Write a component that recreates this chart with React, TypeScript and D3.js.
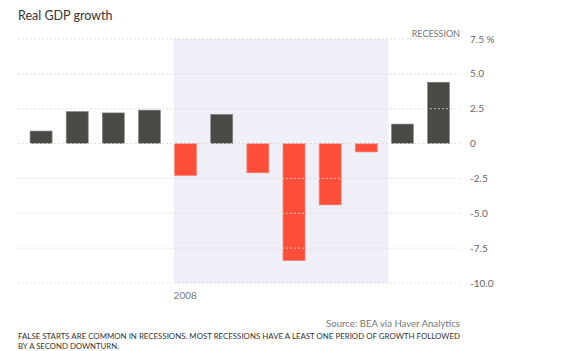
import React from 'react';
import { scaleBand, scaleLinear } from 'd3';

const quarters = ['2007Q1', '2007Q2', '2007Q3', '2007Q4', '2008Q1', '2008Q2', '2008Q3', '2008Q4', '2009Q1', '2009Q2', '2009Q3', '2009Q4'];
const growth = [0.9, 2.3, 2.2, 2.4, -2.3, 2.1, -2.1, -8.4, -4.4, -0.6, 1.4, 4.4];
const yTicks = [7.5, 5.0, 2.5, 0, -2.5, -5.0, -7.5, -10.0];
// recession runs from start of 2008Q1 until the start of 2009Q3
const recessionStart = '2008Q1';
const recessionEnd = '2009Q3';

const W = 572;
const H = 351;
const font = 'Lato, "Noto Sans", sans-serif';

const App: React.FC = () => {
  const gridLeft = 18;
  const gridRight = 460;
  const x = scaleBand<string>().domain(quarters).range([23, 456.6]).paddingInner(0.39).paddingOuter(0.195);
  const y = scaleLinear().domain([-10, 7.5]).range([283, 39]);
  const shadeX0 = (x(recessionStart) ?? 0) - 1;
  const shadeX1 = (x(recessionEnd) ?? 0) - 3;

  return (
    <svg width={W} height={H} style={{ display: 'block', position: 'absolute', left: 0, top: 0 }} fontFamily={font}>
      <rect width={W} height={H} fill="#fff" />
      <text x={18} y={19.5} fontSize={12.5} fill="#333">Real GDP growth</text>
      <rect x={shadeX0} y={y(7.5)} width={shadeX1 - shadeX0} height={y(-10) - y(7.5)} fill="#eeeff7" />
      {quarters.map((q, i) => {
        const v = growth[i];
        const y0 = y(Math.max(0, v));
        const h = Math.abs(y(v) - y(0));
        return (
          <rect key={q} x={x(q)} y={y0} width={x.bandwidth()} height={h}
            fill={v >= 0 ? '#4a4a47' : '#ff4f3a'} stroke={v >= 0 ? '#8a8a88' : '#f48a7e'} strokeWidth={0.6} />
        );
      })}
      {yTicks.map(t => (
        <g key={t}>
          <line x1={gridLeft} x2={gridRight} y1={y(t)} y2={y(t)} stroke="#d8d8d8" strokeWidth={0.8} strokeDasharray="2,2" />
          <text x={470} y={y(t)} dy="0.35em" fontSize={10} fill="#666">
            {t === 0 ? '0' : t.toFixed(1)}{t === 7.5 ? ' %' : ''}
          </text>
        </g>
      ))}
      <text x={460} y={37} textAnchor="end" fontSize={9} fill="#777">RECESSION</text>
      <text x={shadeX0} y={299} fontSize={10} fill="#777">2008</text>
      <text x={460} y={326.5} textAnchor="end" fontSize={9.6} fill="#777">Source: BEA via Haver Analytics</text>
      <text x={18} y={339} fontSize={8.3} fill="#333" textLength={442} lengthAdjust="spacingAndGlyphs">FALSE STARTS ARE COMMON IN RECESSIONS. MOST RECESSIONS HAVE A LEAST ONE PERIOD OF GROWTH FOLLOWED</text>
      <text x={18} y={349} fontSize={8.3} fill="#333" textLength={101} lengthAdjust="spacingAndGlyphs">BY A SECOND DOWNTURN.</text>
    </svg>
  );
};

export default App;
